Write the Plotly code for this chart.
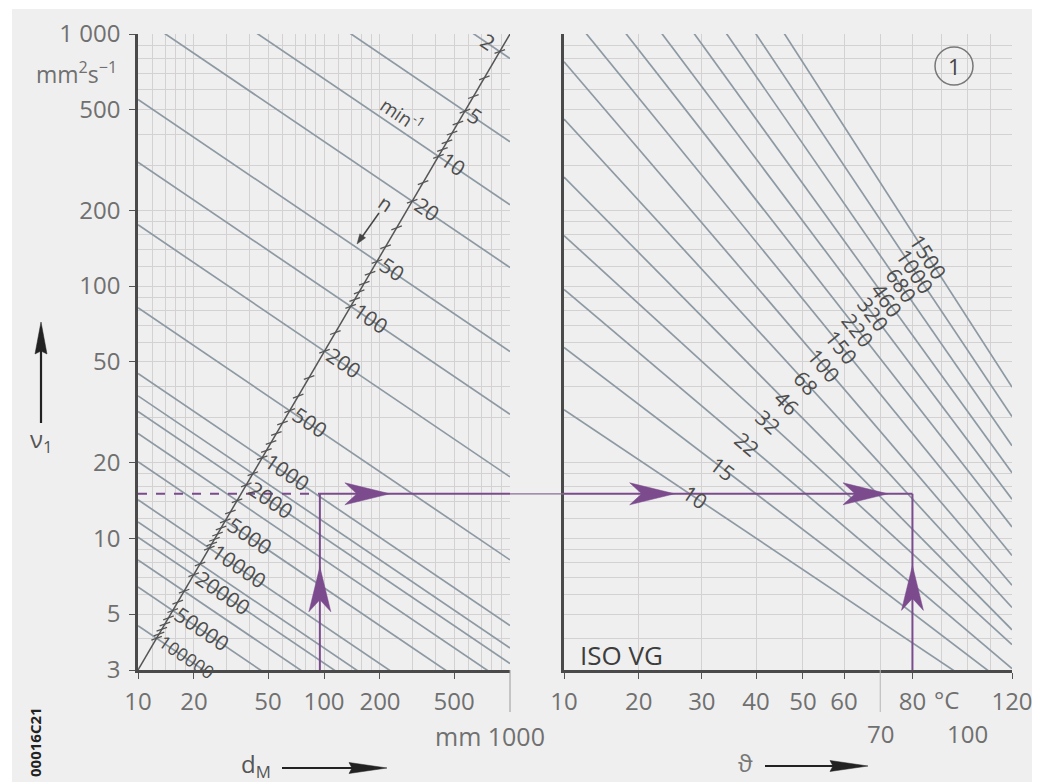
import math
import numpy as np
import plotly.graph_objects as go

# ------------------------------------------------------------------ data
# viscosity axis (shared by both panels)
nu_ticks = [3, 5, 10, 20, 50, 100, 200, 500, 1000]
nu_ticktext = ["3", "5", "10", "20", "50", "100", "200", "500", "1 000"]
nu_minor = [4, 6, 7, 8, 9, 12, 14, 16, 18, 30, 40, 60, 70, 80, 90,
            120, 140, 160, 180, 300, 400, 600, 700, 800, 900]

# bearing mean diameter axis (left panel)
dm_ticks = [10, 20, 50, 100, 200, 500]
dm_ticktext = ["10", "20", "50", "100", "200", "500"]
dm_minor = [12, 14, 16, 18, 30, 40, 60, 70, 80, 90,
            120, 140, 160, 180, 300, 400, 600, 700, 800, 900]

# operating temperature axis (right panel)
temp_ticks = [10, 20, 30, 40, 50, 60, 80, 120]
temp_ticktext = ["10", "20", "30", "40", "50", "60", "80", "120"]
temp_row2 = [70, 100]
temp_minor = [70, 90, 100, 110]

# speed lines n (min^-1): nu1 read at dM = 10 mm and at dM = 1000 mm
speed_n = [2, 5, 10, 20, 50, 100, 200, 500, 1000, 1500, 2000, 3000, 5000,
           10000, 15000, 20000, 30000, 50000, 100000]
nu1_at_dm10 = [8000, 3740, 2100, 1185, 550, 310, 175, 82, 45, 36.7, 31.8, 26,
               20.1, 14.2, 11.6, 10.1, 8.2, 6.4, 4.5]
nu1_at_dm1000 = [800, 374, 210, 118.5, 55, 31, 17.5, 8.2, 4.5, 3.67, 3.18, 2.6,
                 2.01, 1.42, 1.16, 1.01, 0.82, 0.64, 0.45]
speed_labels = [2, 5, 10, 20, 50, 100, 200, 500, 1000, 2000, 5000, 10000,
                20000, 50000, 100000]
speed_scale_ticks = [2, 3, 4, 5, 6, 7, 8, 9, 10, 15, 20, 30, 40, 50, 60, 70, 80,
                     90, 100, 150, 200, 300, 400, 500, 600, 700, 800, 900, 1000,
                     1500, 2000, 3000, 4000, 5000, 6000, 7000, 8000, 9000, 10000,
                     15000, 20000, 30000, 40000, 50000, 60000, 70000, 80000,
                     90000, 100000]

# ISO VG oils: viscosity at 40 °C (= grade) and read value at 100 °C
iso_vg = [10, 15, 22, 32, 46, 68, 100, 150, 220, 320, 460, 680, 1000, 1500]
nu_at_100c = [2.75, 3.45, 4.3, 5.5, 6.55, 8.3, 10.5, 14.1, 18.7, 24.6, 32, 42,
              56, 75]

# worked example
example_dm = 95
example_nu1 = 15
example_temp = 80

# ------------------------------------------------------------------ layout geometry
# (page is shown with an 8 px body margin, so the figure starts at 8,8)
OFF = 8
W, H = 1040 - OFF, 782 - OFF
LX0, LX1 = 138, 510          # left panel, screen px
RX0, RX1 = 564, 1012         # right panel, screen px
PT, PB = 34, 670             # top / bottom of both panels, screen px
log = math.log10


def fx(p):
    return (p - OFF) / W


def fy(p):
    return 1 - (p - OFF) / H


def U(t):
    return -1000.0 / (t + 100.0)


Y0, Y1 = log(3), 3.0
KX = (LX1 - LX0) / 2.0
KY = (PB - PT) / (Y1 - Y0)
KU = (RX1 - RX0) / (U(120) - U(10))
dom_y = [fy(PB), fy(PT)]


def sx_dm(v):
    return LX0 + (log(v) - 1) * KX


def sx_t(t):
    return RX0 + (U(t) - U(10)) * KU


def sy_nu(v):
    return PB - (log(v) - Y0) * KY


GRID = "#d3d1d1"
LINE = "#8d99a3"
PURPLE = "#7b4b8d"
TXT = "#707070"
DARK = "#4d4d4d"
FONT = "Open Sans"


def note(x, y, text, size, color=TXT, **kw):
    d = dict(x=fx(x), y=fy(y), xref="paper", yref="paper", text=text, showarrow=False,
             xanchor="center", yanchor="middle", font=dict(family=FONT, size=size, color=color))
    d.update(kw)
    return d


def head(tipx, tipy, dirx, diry, length, half, notch, color):
    """filled arrow head (screen px) as a paper-referenced path shape"""
    nx, ny = -diry, dirx
    bx, by = tipx - dirx * length, tipy - diry * length
    pts = [(tipx, tipy),
           (bx + nx * half, by + ny * half),
           (tipx - dirx * (length - notch), tipy - diry * (length - notch)),
           (bx - nx * half, by - ny * half)]
    path = "M " + " L ".join(f"{fx(px):.5f},{fy(py):.5f}" for px, py in pts) + " Z"
    return dict(type="path", xref="paper", yref="paper", path=path,
                fillcolor=color, line=dict(color=color, width=0.5))


def seg(x0, y0, x1, y1, color, width):
    return dict(type="line", xref="paper", yref="paper", x0=fx(x0), y0=fy(y0),
                x1=fx(x1), y1=fy(y1), line=dict(color=color, width=width))


fig = go.Figure()

# ------------------------------------------------------------------ left panel lines
for n, a, b in zip(speed_n, nu1_at_dm10, nu1_at_dm1000):
    fig.add_trace(go.Scatter(x=[10, 1000], y=[a, b], mode="lines",
                             line=dict(color=LINE, width=1.7),
                             xaxis="x", yaxis="y", hoverinfo="skip"))

# diagonal n scale
fig.add_trace(go.Scatter(x=[10, 1000], y=[3, 1000], mode="lines",
                         line=dict(color="#555", width=1.5),
                         xaxis="x", yaxis="y", hoverinfo="skip"))

k_diag = (3 - log(3)) / 2.0
ln_n = np.log10(speed_n)
ln_a = np.log10(nu1_at_dm10)
ln_b = np.log10(nu1_at_dm1000)


def diag_point(n):
    ya = float(np.interp(log(n), ln_n, ln_a))
    yb = float(np.interp(log(n), ln_n, ln_b))
    m = (yb - ya) / 2.0
    t = (ya - log(3)) / (k_diag - m)
    return 1 + t, ya + m * t, m


tx, ty = [], []
for n in speed_scale_ticks:
    X, Y, m = diag_point(n)
    tx.append(10 ** X)
    ty.append(10 ** Y)
fig.add_trace(go.Scatter(x=tx, y=ty, mode="markers",
                         marker=dict(symbol="line-ew", size=8, angle=-20,
                                     line=dict(color="#555", width=1.3)),
                         xaxis="x", yaxis="y", hoverinfo="skip"))

annotations = []
for n in speed_labels:
    X, Y, m = diag_point(n)
    ang = math.degrees(math.atan(-m * KY / KX))
    txt = str(n)
    fs = 18 if n >= 100000 else 21
    L = len(txt) * 0.57 * fs
    off = 6 + L / 2
    if n == 2:
        off = -(8 + L / 2)
    annotations.append(dict(x=X, y=Y, xref="x", yref="y", text=txt, showarrow=False,
                            textangle=ang, font=dict(family=FONT, size=fs, color=DARK),
                            xshift=off * math.cos(math.radians(ang)),
                            yshift=-off * math.sin(math.radians(ang)) + 2,
                            xanchor="center", yanchor="middle"))

annotations.append(note(402, 115, "min<sup>-1</sup>", 19, DARK, textangle=34))
annotations.append(note(386, 203, "n", 20, DARK, textangle=34))

# ------------------------------------------------------------------ right panel lines
u10, u120, u40, u100 = U(10), U(120), U(40), U(100)
loc_a = (U(28.8), log(14.5))
loc_b = (U(85.3), log(130))
loc_k = (loc_b[1] - loc_a[1]) / (loc_b[0] - loc_a[0])
for g, v100 in zip(iso_vg, nu_at_100c):
    s = (log(v100) - log(g)) / (u100 - u40)
    ys = [10 ** (log(g) + s * (u - u40)) for u in (u10, u120)]
    fig.add_trace(go.Scatter(x=[u10, u120], y=ys, mode="lines",
                             line=dict(color=LINE, width=1.7),
                             xaxis="x2", yaxis="y2", hoverinfo="skip"))
    uu = (loc_a[1] - loc_k * loc_a[0] - log(g) + s * u40) / (s - loc_k)
    yy = log(g) + s * (uu - u40)
    ang = math.degrees(math.atan(-s * KY / KU))
    annotations.append(dict(x=uu, y=yy, xref="x2", yref="y2", text=str(g),
                            showarrow=False, textangle=ang,
                            font=dict(family=FONT, size=21, color=DARK),
                            xanchor="center", yanchor="middle"))

# ------------------------------------------------------------------ worked example (purple)
pl = dict(color=PURPLE, width=2)
fig.add_trace(go.Scatter(x=[10, example_dm], y=[example_nu1] * 2, mode="lines",
                         line=dict(color=PURPLE, width=2, dash="dash"),
                         xaxis="x", yaxis="y", hoverinfo="skip"))
fig.add_trace(go.Scatter(x=[example_dm, 1000], y=[example_nu1] * 2, mode="lines",
                         line=pl, xaxis="x", yaxis="y", hoverinfo="skip"))
fig.add_trace(go.Scatter(x=[example_dm] * 2, y=[3, example_nu1], mode="lines",
                         line=pl, xaxis="x", yaxis="y", hoverinfo="skip"))
fig.add_trace(go.Scatter(x=[u10, U(example_temp)], y=[example_nu1] * 2, mode="lines",
                         line=pl, xaxis="x2", yaxis="y2", hoverinfo="skip"))
fig.add_trace(go.Scatter(x=[U(example_temp)] * 2, y=[3, example_nu1], mode="lines",
                         line=pl, xaxis="x2", yaxis="y2", hoverinfo="skip"))

ex_y = sy_nu(example_nu1)
shapes = [
    dict(type="rect", xref="paper", yref="paper", x0=fx(12), x1=1, y0=0, y1=fy(9),
         fillcolor="#efefef", line=dict(width=0), layer="below"),
    seg(LX1, ex_y, RX0, ex_y, "#8a6f96", 1.2),
    # purple arrow heads along the example path
    head(sx_dm(226), ex_y, 1, 0, 45, 11, 12, PURPLE),
    head(sx_dm(example_dm), sy_nu(7.7), 0, -1, 45, 11, 12, PURPLE),
    head(sx_t(25.5), ex_y, 1, 0, 45, 11, 12, PURPLE),
    head(sx_t(72.3), ex_y, 1, 0, 45, 11, 12, PURPLE),
    head(sx_t(example_temp), sy_nu(7.8), 0, -1, 45, 11, 12, PURPLE),
    # long ticks under the axes
    seg(sx_dm(1000), PB, sx_dm(1000), 712, "#9a9a9a", 1),
    seg(sx_t(70), PB, sx_t(70), 712, "#b5b5b5", 1),
    # circled "1"
    dict(type="circle", xref="paper", yref="paper", x0=fx(935), x1=fx(973),
         y0=fy(85), y1=fy(47), line=dict(color="#777", width=1.5)),
    # n arrow
    seg(379, 213, 362, 237, "#444", 1.5),
    head(357, 244, -0.57, 0.82, 10, 3.5, 0, "#444"),
    # axis-name arrows
    seg(41, 423, 41, 345, "#222", 2.2),
    head(41, 322, 0, -1, 32, 6, 3, "#222"),
    seg(282, 768, 355, 768, "#222", 2.2),
    head(387, 768, 1, 0, 38, 5.5, 3, "#222"),
    seg(765, 766, 835, 766, "#222", 2.2),
    head(868, 766, 1, 0, 38, 5.5, 3, "#222"),
]

# ------------------------------------------------------------------ texts
annotations += [
    note(119, 73, "mm<sup>2</sup>s<sup>−1</sup>", 23, xanchor="right"),
    note(547, 736, "mm 1000", 25, xanchor="right"),
    note(946, 699, "°C", 24),
    note(954, 66, "1", 22, "#444"),
    note(578, 655, "ISO VG", 26, "#3d3d3d", xanchor="left"),
    note(41, 440, "ν<sub>1</sub>", 24, "#555"),
    note(256, 765, "d<sub>M</sub>", 24, "#555"),
    note(745, 762, "ϑ", 24, "#777"),
    note(35, 742, "<b>00016C21</b>", 15, "#222", textangle=-90),
]
for t in temp_row2:
    annotations.append(dict(x=U(t), y=fy(733), xref="x2", yref="paper", text=str(t),
                            showarrow=False, xanchor="center", yanchor="middle",
                            font=dict(family=FONT, size=24, color=TXT)))

axis_common = dict(showline=True, linecolor="#4a4a4a", linewidth=2.5, mirror=False,
                   ticks="outside", ticklen=6, tickcolor="#555", tickwidth=1.2,
                   showgrid=True, gridcolor=GRID, gridwidth=1, zeroline=False,
                   automargin=False,
                   tickfont=dict(family=FONT, size=24, color=TXT))

fig.update_layout(
    width=W, height=H, autosize=False, showlegend=False,
    margin=dict(l=0, r=0, t=0, b=0, pad=0, autoexpand=False),
    paper_bgcolor="white", plot_bgcolor="white",
    xaxis=dict(type="log", range=[1, 3], domain=[fx(LX0), fx(LX1)],
               tickvals=dm_ticks, ticktext=dm_ticktext, ticklabelstandoff=2,
               minor=dict(tickvals=dm_minor, showgrid=True, gridcolor=GRID, gridwidth=1),
               anchor="y", **axis_common),
    yaxis=dict(type="log", range=[Y0, Y1], domain=dom_y,
               tickvals=nu_ticks, ticktext=nu_ticktext, ticklabelstandoff=4,
               minor=dict(tickvals=nu_minor, showgrid=True, gridcolor=GRID, gridwidth=1),
               anchor="x", **axis_common),
    xaxis2=dict(type="linear", range=[U(10), U(120)], domain=[fx(RX0), fx(RX1)],
                tickvals=[U(t) for t in temp_ticks], ticktext=temp_ticktext,
                ticklabelstandoff=2,
                minor=dict(tickvals=[U(t) for t in temp_minor], showgrid=True,
                           gridcolor=GRID, gridwidth=1),
                anchor="y2", **axis_common),
    yaxis2=dict(type="log", range=[Y0, Y1], domain=dom_y, anchor="x2",
                showticklabels=False,
                tickvals=nu_ticks,
                minor=dict(tickvals=nu_minor, showgrid=True, gridcolor=GRID, gridwidth=1),
                **{k: v for k, v in axis_common.items() if k not in ("ticks",)}, ticks=""),
    shapes=shapes,
    annotations=annotations,
)

fig.write_html("out.html")
